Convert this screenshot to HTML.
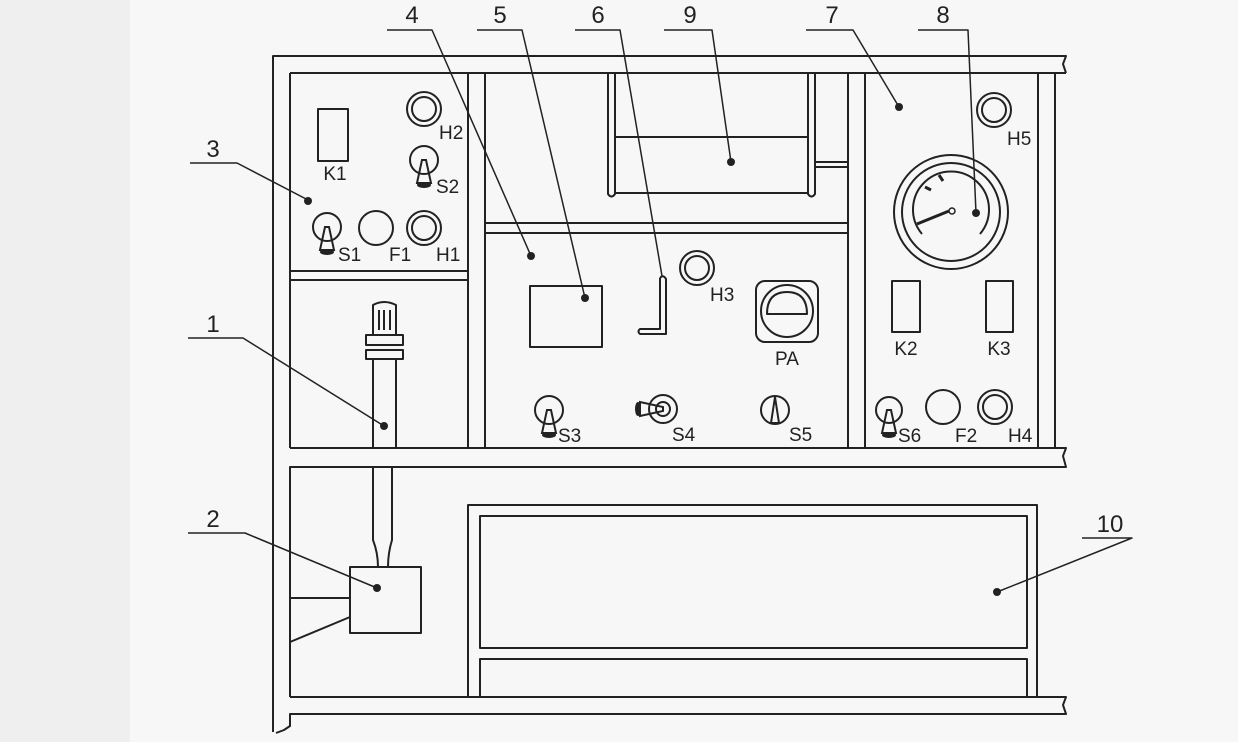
<!DOCTYPE html>
<html><head><meta charset="utf-8"><style>
html,body{margin:0;padding:0;background:#f7f7f7;}
svg{display:block}
text{font-family:"Liberation Sans",sans-serif;fill:#222;}
</style></head><body>
<svg width="1238" height="742" viewBox="0 0 1238 742" xmlns="http://www.w3.org/2000/svg">
<rect width="1238" height="742" fill="#f7f7f7"/>
<rect x="0" y="0" width="130" height="742" fill="#efefef"/>
<g stroke="#222" stroke-width="2" fill="none" stroke-linejoin="round">
<!-- outer frame -->
<path d="M273 732 L273 56 L1066 56 L1063 64 L1066 73"/>
<path d="M290 73 L1066 73"/>
<path d="M290 73 L290 448"/>
<path d="M290 448 L1066 448 L1063 456 L1066 467 L290 467 L290 697"/>
<path d="M290 697 L1066 697 L1063 705 L1066 714 L290 714 L290 726 L284 730 L276 733"/>
<!-- left panel -->
<path d="M468 73 L468 448 M485 73 L485 448"/>
<path d="M290 271 L468 271 M290 280 L468 280"/>
<!-- mid / right panels -->
<path d="M848 73 L848 448 M865 73 L865 448 M1038 73 L1038 448 M1055 73 L1055 448"/>
<path d="M485 223 L848 223 M485 233 L848 233"/>
<!-- drum 9 -->
<path d="M608 73 L608 194 Q611.5 199 615 194 L615 73"/>
<path d="M808 73 L808 194 Q811.5 199 815 194 L815 73"/>
<path d="M615 137 L808 137 M615 193 L808 193"/>
<path d="M815 162 L848 162 M815 167 L848 167"/>
<!-- K1 -->
<rect x="318" y="109" width="30" height="52"/>
<!-- H2, H1 -->
<circle cx="424" cy="109" r="17"/><circle cx="424" cy="109" r="12"/>
<circle cx="424" cy="228" r="17"/><circle cx="424" cy="228" r="12"/>
<!-- F1 -->
<circle cx="376" cy="228" r="17"/>
<!-- toggles -->
<circle cx="424" cy="160" r="14"/>
<circle cx="327" cy="227" r="14"/>
<circle cx="549" cy="410" r="14"/>
<circle cx="889" cy="410" r="13"/>
<circle cx="663" cy="409" r="14"/><circle cx="663" cy="409" r="7"/>
<circle cx="775" cy="410" r="14"/>
<!-- tube 1 -->
<path d="M373 335 L373 305 Q384 299 396 305 L396 335"/>
<path d="M379 310 L379 330 M384 310 L384 330 M390 310 L390 330"/>
<rect x="366" y="335" width="37" height="10"/>
<rect x="366" y="350" width="37" height="9"/>
<path d="M373 359 L373 448 M396 359 L396 448"/>
<path d="M373 467 L373 540 Q378 553 378 567 M392 467 L392 540 Q388 553 388 567"/>
<!-- box 2 -->
<rect x="350" y="567" width="71" height="66"/>
<path d="M290 598 L350 598 M350 617 L290 642"/>
<!-- box 10 -->
<path d="M468 697 L468 505 L1037 505 L1037 697"/>
<rect x="480" y="516" width="547" height="132"/>
<path d="M480 697 L480 659 L1027 659 L1027 697"/>
<!-- box 5 -->
<rect x="530" y="286" width="72" height="61"/>
<!-- L bracket 6 -->
<path d="M660 278 L660 329 L640 329 Q637 331.5 640 334 L666 334 L666 279 Q663 274 660 278"/>
<!-- H3 -->
<circle cx="697" cy="268" r="17"/><circle cx="697" cy="268" r="12"/>
<!-- PA -->
<rect x="756" y="281" width="62" height="61" rx="9"/>
<circle cx="787" cy="311" r="26"/>
<path d="M767 314 Q767 292 787 292 Q807 292 807 314 Z"/>
<!-- H5 / H4 / F2 -->
<circle cx="994" cy="110" r="17"/><circle cx="994" cy="110" r="12"/>
<circle cx="995" cy="407" r="17"/><circle cx="995" cy="407" r="12"/>
<circle cx="943" cy="407" r="17"/>
<!-- gauge -->
<circle cx="951" cy="212" r="57"/><circle cx="951" cy="212" r="49"/>
<path d="M922 234 A38 38 0 1 1 980 234"/>
<!-- K2 K3 -->
<rect x="892" y="281" width="28" height="51"/>
<rect x="986" y="281" width="27" height="51"/>
<!-- leader lines -->
<path d="M190 163 L237 163 L308 200" stroke-width="1.5"/>
<path d="M188 338 L243 338 L384 426" stroke-width="1.5"/>
<path d="M188 533 L245 533 L377 588" stroke-width="1.5"/>
<path d="M387 30 L432 30 L531 256" stroke-width="1.5"/>
<path d="M477 30 L522 30 L585 298" stroke-width="1.5"/>
<path d="M575 30 L620 30 L662 276" stroke-width="1.5"/>
<path d="M664 30 L712 30 L731 162" stroke-width="1.5"/>
<path d="M806 30 L853 30 L899 107" stroke-width="1.5"/>
<path d="M918 30 L968 30 L976 213" stroke-width="1.5"/>
<path d="M1082 538 L1132 538 L997 592" stroke-width="1.5"/>
</g>
<!-- filled bits -->
<g fill="#222">
<circle cx="308" cy="201" r="4"/><circle cx="384" cy="426" r="4"/><circle cx="377" cy="588" r="4"/>
<circle cx="531" cy="256" r="4"/><circle cx="585" cy="298" r="4"/><circle cx="731" cy="162" r="4"/>
<circle cx="899" cy="107" r="4"/><circle cx="976" cy="213" r="4"/><circle cx="997" cy="592" r="4"/>
<!-- toggle levers -->
<path d="M422 160 L426 160 L431 183 L417 183 Z" fill="none" stroke="#222" stroke-width="2"/><ellipse cx="424" cy="185" rx="7" ry="3"/>
<path d="M325 227 L329 227 L334 250 L320 250 Z" fill="none" stroke="#222" stroke-width="2"/><ellipse cx="327" cy="252" rx="7" ry="3"/>
<path d="M547 410 L551 410 L556 433 L542 433 Z" fill="none" stroke="#222" stroke-width="2"/><ellipse cx="549" cy="435" rx="7" ry="3"/>
<path d="M887 410 L891 410 L896 433 L882 433 Z" fill="none" stroke="#222" stroke-width="2"/><ellipse cx="889" cy="435" rx="7" ry="3"/>
<path d="M663 407 L663 411 L640 416 L640 402 Z" fill="none" stroke="#222" stroke-width="2"/><ellipse cx="638" cy="409" rx="3" ry="7"/>
<path d="M775 397 L771 423 L779 423 Z" fill="none" stroke="#222" stroke-width="2"/>
<!-- gauge needle -->
<line x1="917" y1="224" x2="949" y2="211" stroke="#222" stroke-width="3"/>
<circle cx="952" cy="211" r="3" fill="#f7f7f7" stroke="#222" stroke-width="1.5"/>
<path d="M925 187 l6 3 M939 175 l4 6" stroke="#222" stroke-width="3"/>
</g>
<!-- labels -->
<g font-size="19">
<text x="335" y="180" text-anchor="middle">K1</text>
<text x="439" y="139">H2</text>
<text x="436" y="193">S2</text>
<text x="338" y="261">S1</text>
<text x="389" y="261">F1</text>
<text x="436" y="261">H1</text>
<text x="710" y="301">H3</text>
<text x="787" y="365" text-anchor="middle">PA</text>
<text x="558" y="442">S3</text>
<text x="672" y="441">S4</text>
<text x="789" y="441">S5</text>
<text x="1007" y="145">H5</text>
<text x="906" y="355" text-anchor="middle">K2</text>
<text x="999" y="355" text-anchor="middle">K3</text>
<text x="898" y="442">S6</text>
<text x="955" y="442">F2</text>
<text x="1008" y="442">H4</text>
</g>
<g font-size="24">
<text x="213" y="157" text-anchor="middle">3</text>
<text x="213" y="332" text-anchor="middle">1</text>
<text x="213" y="527" text-anchor="middle">2</text>
<text x="412" y="23" text-anchor="middle">4</text>
<text x="500" y="23" text-anchor="middle">5</text>
<text x="598" y="23" text-anchor="middle">6</text>
<text x="690" y="23" text-anchor="middle">9</text>
<text x="832" y="23" text-anchor="middle">7</text>
<text x="943" y="23" text-anchor="middle">8</text>
<text x="1110" y="532" text-anchor="middle">10</text>
</g>
</svg>
</body></html>
